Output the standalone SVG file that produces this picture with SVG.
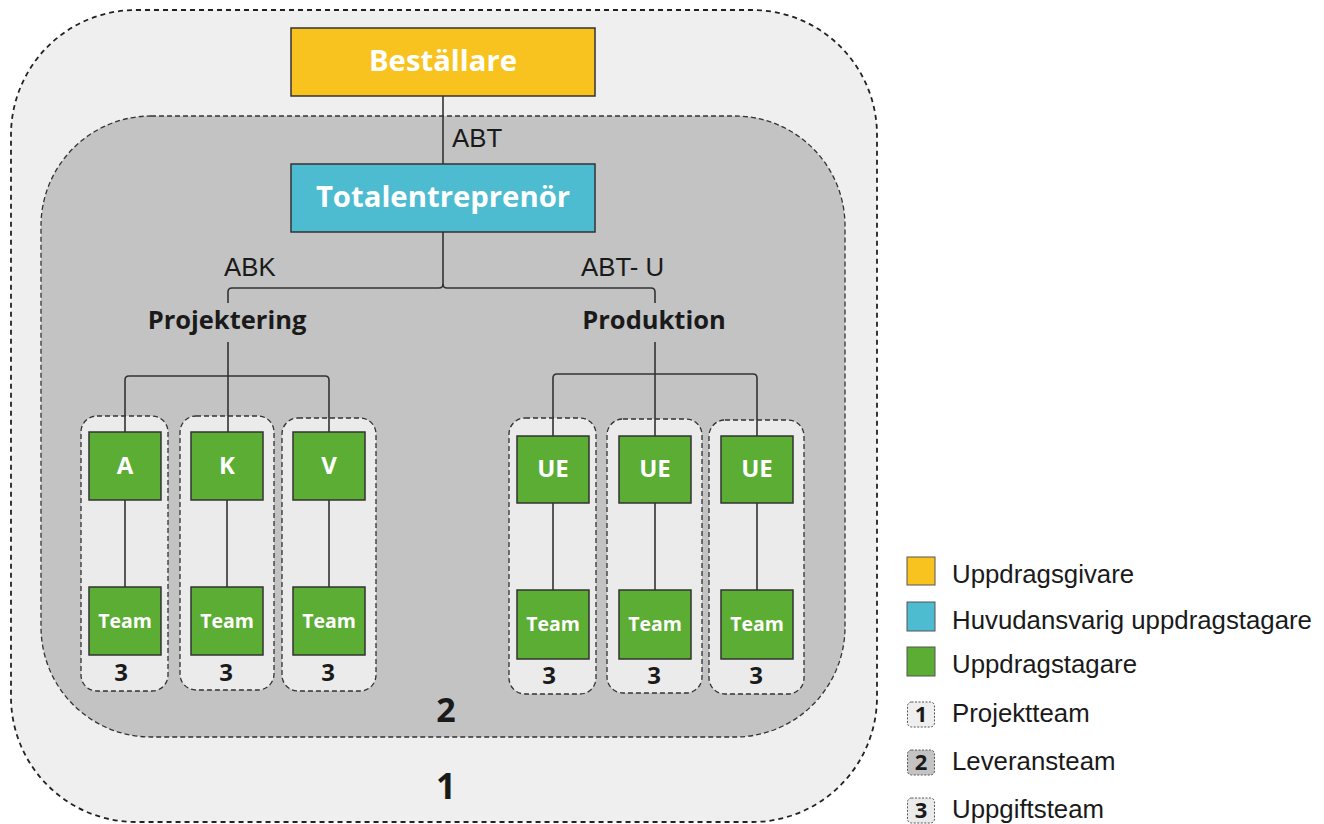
<svg xmlns="http://www.w3.org/2000/svg" width="1324" height="824" viewBox="0 0 1324 824">
<style>
.lvl1{fill:#efefef;stroke:#222;stroke-width:1.8;stroke-dasharray:5 4}
.lvl2{fill:#c3c3c3;stroke:#333;stroke-width:1.3;stroke-dasharray:5 3}
.lvl3{fill:#ebebeb;stroke:#333;stroke-width:1.3;stroke-dasharray:5 3}
.box{stroke:#333;stroke-width:1.5}
.yel{fill:#f9c31f}.blu{fill:#4dbbd0}.grn{fill:#5bad33}
.wt{font-family:"Open Sans","DejaVu Sans",sans-serif;font-weight:bold;fill:#fff;text-anchor:middle}
.bt{font-family:"Open Sans","DejaVu Sans",sans-serif;font-weight:bold;fill:#1a1a1a;text-anchor:middle}
.lbl{font-family:"Liberation Sans",Arial,sans-serif;fill:#1a1a1a;font-size:25.8px}
.lg{font-family:"Liberation Sans",Arial,sans-serif;fill:#1a1a1a;font-size:25.8px}
.con{fill:none;stroke:#333;stroke-width:1.6}
</style>
<g id="level1"><rect class="lvl1" x="11" y="10" width="866" height="812" rx="125" ry="125"/><text class="bt" x="446" y="799" font-size="35">1</text></g>
<g id="level2"><rect class="lvl2" x="41" y="116" width="804" height="621" rx="110" ry="110"/><text class="bt" x="446" y="722" font-size="34">2</text></g>
<g id="teams">
<rect class="lvl3" x="81" y="416" width="87" height="275" rx="16"/>
<rect class="lvl3" x="180" y="416" width="94" height="274" rx="16"/>
<rect class="lvl3" x="282" y="418" width="94" height="273" rx="16"/>
<rect class="lvl3" x="509" y="418" width="87" height="276" rx="16"/>
<rect class="lvl3" x="607" y="419" width="95" height="274" rx="16"/>
<rect class="lvl3" x="709" y="420" width="95" height="274" rx="16"/>
</g>
<g id="connectors">
<path class="con" d="M443 96V164"/>
<path class="con" d="M443 232V284Q443 288 439 288H232Q228 288 228 292V303"/>
<path class="con" d="M443 284Q443 288 447 288H651Q655 288 655 292V303"/>
<path class="con" d="M228 342V432"/>
<path class="con" d="M228 376H129Q125 376 125 380V432"/>
<path class="con" d="M228 376H325Q329 376 329 380V432"/>
<path class="con" d="M655 342V436"/>
<path class="con" d="M655 374H557Q553 374 553 378V436"/>
<path class="con" d="M655 374H753Q757 374 757 378V436"/>
<path class="con" d="M125 500V587M227 500V587M329 500V587M553 503V590M655 503V590M757 503V590"/>
</g>
<g id="labels">
<text class="lbl" x="452" y="147">ABT</text>
<text class="lbl" x="224" y="276">ABK</text>
<text class="lbl" x="581" y="276">ABT- U</text>
</g>
<g id="bestallare"><rect class="box yel" x="291" y="28" width="304" height="68"/><text class="wt" x="443" y="71" font-size="29.3">Beställare</text></g>
<g id="totalentreprenor"><rect class="box blu" x="291" y="164" width="304" height="68"/><text class="wt" x="443" y="207" font-size="29.3">Totalentreprenör</text></g>
<g id="projektering"><text class="bt" x="227" y="329" font-size="25.5">Projektering</text></g>
<g id="produktion"><text class="bt" x="654" y="329" font-size="25.5">Produktion</text></g>
<g id="nodeA"><rect class="box grn" x="89" y="432" width="72" height="68"/><text class="wt" x="125" y="474" font-size="24">A</text></g>
<g id="nodeK"><rect class="box grn" x="191" y="432" width="72" height="68"/><text class="wt" x="227" y="474" font-size="24">K</text></g>
<g id="nodeV"><rect class="box grn" x="293" y="432" width="72" height="68"/><text class="wt" x="329" y="474" font-size="24">V</text></g>
<g id="teamA"><rect class="box grn" x="89" y="587" width="72" height="68"/><text class="wt" x="125" y="628" font-size="19.5">Team</text><text class="bt" x="121" y="681" font-size="24">3</text></g>
<g id="teamK"><rect class="box grn" x="191" y="587" width="72" height="68"/><text class="wt" x="227" y="628" font-size="19.5">Team</text><text class="bt" x="226" y="681" font-size="24">3</text></g>
<g id="teamV"><rect class="box grn" x="293" y="587" width="72" height="68"/><text class="wt" x="329" y="628" font-size="19.5">Team</text><text class="bt" x="328" y="681" font-size="24">3</text></g>
<g id="ue1"><rect class="box grn" x="517" y="436" width="72" height="67"/><text class="wt" x="553" y="477" font-size="24">UE</text></g>
<g id="ue2"><rect class="box grn" x="619" y="436" width="72" height="67"/><text class="wt" x="655" y="477" font-size="24">UE</text></g>
<g id="ue3"><rect class="box grn" x="721" y="436" width="72" height="67"/><text class="wt" x="757" y="477" font-size="24">UE</text></g>
<g id="team1"><rect class="box grn" x="517" y="590" width="72" height="69"/><text class="wt" x="553" y="631" font-size="19.5">Team</text><text class="bt" x="549" y="684" font-size="24">3</text></g>
<g id="team2"><rect class="box grn" x="619" y="590" width="72" height="69"/><text class="wt" x="655" y="631" font-size="19.5">Team</text><text class="bt" x="654" y="684" font-size="24">3</text></g>
<g id="team3"><rect class="box grn" x="721" y="590" width="72" height="69"/><text class="wt" x="757" y="631" font-size="19.5">Team</text><text class="bt" x="756" y="684" font-size="24">3</text></g>
<g id="legend">
<rect class="yel" x="907" y="557" width="28" height="28" stroke="#555" stroke-width="1"/><text class="lg" x="952" y="583">Uppdragsgivare</text>
<rect class="blu" x="907" y="602" width="28" height="29" stroke="#555" stroke-width="1"/><text class="lg" x="952" y="629">Huvudansvarig uppdragstagare</text>
<rect class="grn" x="907" y="647" width="28" height="29" stroke="#555" stroke-width="1"/><text class="lg" x="952" y="673">Uppdragstagare</text>
<rect x="907.5" y="702" width="27" height="25" rx="4" fill="#efefef" stroke="#555" stroke-width="1" stroke-dasharray="2 1.5"/><text class="bt" x="921" y="722" font-size="22">1</text><text class="lg" x="952" y="722">Projektteam</text>
<rect x="907.5" y="750" width="27" height="25" rx="4" fill="#c3c3c3" stroke="#555" stroke-width="1" stroke-dasharray="2 1.5"/><text class="bt" x="921" y="770" font-size="22">2</text><text class="lg" x="952" y="770">Leveransteam</text>
<rect x="907.5" y="798" width="27" height="25" rx="4" fill="#ebebeb" stroke="#555" stroke-width="1" stroke-dasharray="2 1.5"/><text class="bt" x="921" y="818" font-size="22">3</text><text class="lg" x="952" y="818">Uppgiftsteam</text>
</g>
</svg>
